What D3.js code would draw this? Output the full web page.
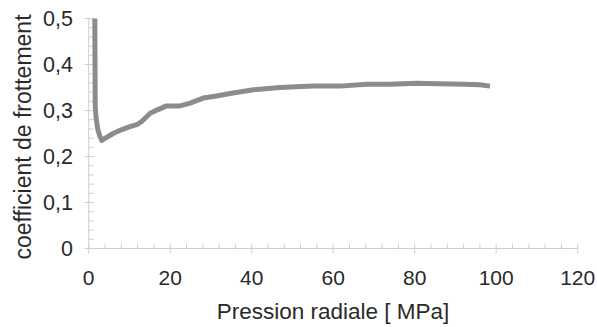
<!DOCTYPE html>
<html><head><meta charset="utf-8">
<script src="https://cdn.jsdelivr.net/npm/d3@7"></script>
<style>body{margin:0;background:#fff}svg{display:block}text{font-family:"Liberation Sans",Arial,sans-serif;fill:#2a2a2a}</style>
</head><body><svg id="c" width="597" height="327"></svg>
<script>
const pressure = [1.5,1.6,1.8,2.2,2.7,3.2,4.5,6.0,8.0,10.1,12.0,13.0,15.1,17.0,19.1,22.4,24.9,28.1,31.0,34.7,40.4,46.9,55.0,61.7,68.2,74.0,80.5,86.0,92.0,96.0,98.5];
const friction = [0.5,0.31,0.285,0.26,0.245,0.235,0.242,0.250,0.258,0.265,0.270,0.276,0.294,0.302,0.310,0.310,0.316,0.327,0.331,0.337,0.345,0.350,0.353,0.353,0.357,0.357,0.359,0.358,0.357,0.356,0.353];
const xTicks = [0,20,40,60,80,100,120];
const yTicks = [0,0.1,0.2,0.3,0.4,0.5];
const xLabel = "Pression radiale [ MPa]";
const yLabel = "coefficient de frottement";

const svg = d3.select("#c");
const x = d3.scaleLinear().domain([0,120]).range([88.7,577.7]);
const y = d3.scaleLinear().domain([0,0.5]).range([248.5,18.5]);
const axisCol = "#cfcfcf";
const g = svg.append("g");
// axes lines
g.append("line").attr("x1",x(0)).attr("x2",x(120)).attr("y1",y(0)).attr("y2",y(0)).attr("stroke",axisCol);
g.append("line").attr("x1",x(0)).attr("x2",x(0)).attr("y1",y(0)).attr("y2",y(0.5)).attr("stroke",axisCol);
// minor ticks
const xMinor = d3.range(0,121,4).filter(v=>v%20!==0);
g.selectAll(".xm").data(xMinor).join("line").attr("x1",d=>x(d)).attr("x2",d=>x(d)).attr("y1",y(0)-5).attr("y2",y(0)).attr("stroke",axisCol);
const yMinor = d3.range(0,51,2).filter(v=>v%10!==0).map(v=>v/100);
g.selectAll(".ym").data(yMinor).join("line").attr("x1",x(0)).attr("x2",x(0)+5).attr("y1",d=>y(d)).attr("y2",d=>y(d)).attr("stroke",axisCol);
// major ticks
g.selectAll(".xM").data(xTicks).join("line").attr("x1",d=>x(d)).attr("x2",d=>x(d)).attr("y1",y(0)-5).attr("y2",y(0)+5).attr("stroke",axisCol);
g.selectAll(".yM").data(yTicks).join("line").attr("x1",x(0)-4).attr("x2",x(0)+5).attr("y1",d=>y(d)).attr("y2",d=>y(d)).attr("stroke",axisCol);
// tick labels
const fmtY = d=> d===0?"0":d3.format(".1f")(d).replace(".",",");
g.selectAll(".xl").data(xTicks).join("text").attr("x",d=>x(d)).attr("y",285).attr("text-anchor","middle").attr("font-size",21).text(d=>d);
g.selectAll(".yl").data(yTicks).join("text").attr("x",73).attr("y",d=>y(d)).attr("dy","0.36em").attr("text-anchor","end").attr("font-size",21.5).text(fmtY);
// axis titles
g.append("text").attr("x",333).attr("y",319).attr("text-anchor","middle").attr("font-size",22.5).text(xLabel);
g.append("text").attr("transform","translate(31,137) rotate(-90)").attr("text-anchor","middle").attr("font-size",23).text(yLabel);
// line
const line = d3.line().x((d,i)=>x(pressure[i])).y(d=>y(d));
g.append("path").attr("d",line(friction)).attr("fill","none").attr("stroke","#8c8c8c").attr("stroke-width",5).attr("stroke-linejoin","round");
</script></body></html>
